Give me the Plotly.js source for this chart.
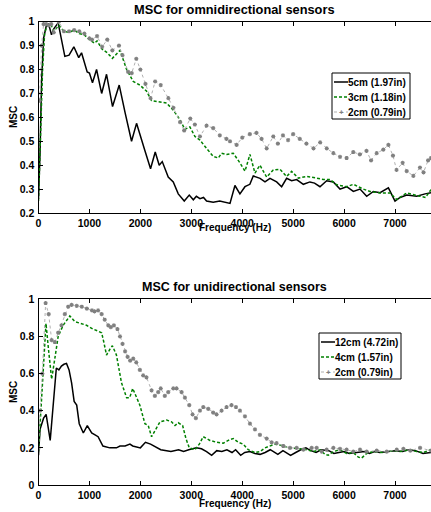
<!DOCTYPE html>
<html><head><meta charset="utf-8">
<script src="https://cdn.plot.ly/plotly-3.0.1.min.js"></script>
<style>html,body{margin:0;padding:0;overflow:hidden;background:#fff;}#c{width:440px;height:512px;}</style>
</head><body><div id="c"></div>
<script>
// ---- Top: omnidirectional ----
const fTop5 = [0,30,60,100,150,200,255,300,386,450,517,600,694,790,845,956,1000,1060,1140,1240,1336,1454,1585,1700,1827,1925,2000,2090,2200,2292,2370,2430,2547,2646,2744,2862,2960,3040,3100,3170,3240,3300,3430,3560,3760,3857,3955,4054,4150,4217,4350,4447,4545,4676,4774,4872,4970,5069,5200,5330,5420,5527,5658,5789,5920,6051,6182,6313,6444,6575,6706,6870,7000,7100,7230,7426,7590,7707];
const mTop5 = [0.26,0.45,0.75,0.93,0.98,0.99,0.945,0.97,0.995,0.93,0.855,0.86,0.895,0.85,0.87,0.79,0.785,0.745,0.80,0.70,0.78,0.645,0.735,0.62,0.50,0.575,0.52,0.46,0.385,0.455,0.40,0.415,0.35,0.33,0.28,0.25,0.275,0.255,0.27,0.26,0.265,0.25,0.245,0.25,0.24,0.315,0.28,0.31,0.32,0.355,0.345,0.33,0.345,0.33,0.31,0.345,0.335,0.34,0.32,0.33,0.325,0.31,0.335,0.33,0.30,0.31,0.29,0.30,0.27,0.29,0.285,0.305,0.25,0.265,0.275,0.27,0.28,0.285];

const fTop3 = [0,40,80,120,160,200,250,300,400,500,600,700,800,900,1000,1100,1150,1250,1350,1450,1600,1730,1860,1990,2120,2220,2385,2515,2646,2777,2875,2973,3071,3170,3300,3430,3530,3595,3693,3824,3955,4054,4152,4250,4348,4480,4610,4740,4872,4970,5101,5265,5462,5593,5724,5855,6051,6182,6378,6510,6706,6902,7033,7230,7492,7600,7707];
const mTop3 = [0.25,0.5,0.8,0.95,0.98,0.99,0.985,0.96,0.985,0.96,0.955,0.965,0.95,0.945,0.925,0.91,0.92,0.885,0.87,0.847,0.88,0.80,0.75,0.735,0.71,0.67,0.665,0.66,0.63,0.59,0.55,0.56,0.52,0.505,0.47,0.437,0.43,0.45,0.445,0.45,0.41,0.375,0.445,0.367,0.40,0.35,0.38,0.383,0.353,0.374,0.346,0.353,0.346,0.34,0.34,0.318,0.31,0.32,0.30,0.29,0.284,0.284,0.256,0.284,0.27,0.265,0.298];

const fTop2 = [20,60,100,150,200,250,300,400,500,600,700,800,900,1000,1050,1150,1250,1350,1450,1580,1650,1760,1830,1920,2000,2100,2200,2290,2400,2550,2650,2780,2860,2980,3070,3170,3300,3430,3560,3690,3760,3890,4000,4150,4280,4380,4480,4610,4700,4800,4900,5000,5130,5260,5400,5530,5660,5790,5920,6050,6180,6310,6440,6530,6640,6770,6870,6960,7030,7150,7230,7360,7490,7560,7650,7707];
const mTop2 = [0.67,0.9,0.99,0.99,0.985,0.99,0.955,1.0,0.96,0.96,0.965,0.96,0.95,0.93,0.925,0.94,0.895,0.925,0.88,0.9,0.86,0.79,0.785,0.845,0.80,0.74,0.68,0.75,0.735,0.68,0.64,0.58,0.545,0.595,0.57,0.52,0.565,0.555,0.525,0.51,0.50,0.485,0.515,0.53,0.535,0.51,0.47,0.52,0.49,0.525,0.505,0.53,0.51,0.49,0.47,0.495,0.47,0.45,0.435,0.43,0.455,0.445,0.46,0.42,0.45,0.465,0.485,0.44,0.38,0.41,0.375,0.355,0.39,0.37,0.42,0.43];

// ---- Bottom: unidirectional ----
const fBot12 = [0,30,100,150,230,300,350,400,450,500,550,600,650,700,750,800,880,958,1044,1110,1170,1265,1400,1530,1600,1700,1795,1850,2000,2100,2200,2400,2600,2750,2850,2950,3100,3200,3300,3400,3500,3600,3700,3800,3870,3970,4050,4150,4250,4350,4450,4550,4700,4800,4950,5050,5150,5250,5350,5450,5550,5700,5800,5900,6000,6100,6250,6400,6500,6600,6700,6850,7000,7150,7250,7400,7550,7707];
const mBot12 = [0.16,0.30,0.36,0.38,0.24,0.46,0.63,0.62,0.64,0.65,0.655,0.62,0.55,0.45,0.43,0.33,0.28,0.32,0.28,0.27,0.26,0.21,0.20,0.20,0.21,0.21,0.22,0.21,0.20,0.23,0.22,0.19,0.18,0.19,0.18,0.19,0.20,0.195,0.18,0.16,0.185,0.18,0.19,0.175,0.19,0.16,0.175,0.18,0.17,0.165,0.175,0.19,0.165,0.185,0.16,0.175,0.19,0.20,0.185,0.175,0.19,0.185,0.17,0.175,0.18,0.17,0.175,0.18,0.17,0.18,0.175,0.18,0.185,0.18,0.19,0.185,0.17,0.175];

const fBot4 = [0,50,100,147,200,258,320,386,484,583,615,712,812,943,1070,1170,1240,1282,1335,1400,1450,1530,1630,1730,1790,1850,1990,2090,2155,2220,2305,2385,2515,2613,2680,2745,2830,2895,2960,3070,3157,3235,3366,3497,3628,3760,3825,3923,4020,4119,4250,4350,4447,4545,4643,4740,4938,5134,5265,5396,5527,5625,5690,5790,5920,6050,6180,6280,6345,6445,6575,6770,6967,7100,7295,7426,7557,7707];
const mBot4 = [0.18,0.40,0.62,0.87,0.72,0.57,0.68,0.80,0.86,0.90,0.91,0.88,0.87,0.86,0.84,0.83,0.82,0.77,0.70,0.73,0.75,0.70,0.55,0.47,0.47,0.52,0.43,0.33,0.32,0.26,0.30,0.34,0.35,0.34,0.32,0.335,0.32,0.25,0.20,0.19,0.22,0.26,0.24,0.23,0.225,0.245,0.25,0.23,0.22,0.19,0.175,0.18,0.20,0.21,0.22,0.215,0.20,0.195,0.19,0.18,0.19,0.165,0.16,0.18,0.19,0.17,0.175,0.15,0.145,0.17,0.18,0.175,0.185,0.18,0.19,0.18,0.175,0.19];

const fBot2 = [0,30,75,140,200,258,320,386,451,517,583,650,750,850,950,1050,1100,1170,1240,1300,1370,1420,1480,1550,1600,1650,1700,1750,1800,1860,1920,1990,2055,2120,2220,2285,2350,2400,2480,2547,2646,2711,2810,2875,2960,3025,3090,3170,3235,3333,3430,3497,3595,3693,3790,3877,3955,4054,4152,4250,4348,4480,4578,4676,4807,4938,5069,5200,5364,5462,5560,5658,5790,5920,6050,6180,6313,6444,6641,6838,7034,7165,7300,7492,7707];
const mBot2 = [0.2,0.4,0.6,0.98,0.92,0.78,0.77,0.82,0.86,0.92,0.96,0.97,0.965,0.96,0.95,0.94,0.935,0.94,0.92,0.89,0.86,0.85,0.86,0.84,0.80,0.76,0.72,0.69,0.67,0.68,0.66,0.62,0.59,0.58,0.51,0.48,0.50,0.52,0.48,0.50,0.52,0.52,0.50,0.47,0.43,0.38,0.36,0.40,0.42,0.41,0.39,0.38,0.40,0.42,0.43,0.42,0.40,0.37,0.33,0.30,0.27,0.25,0.23,0.225,0.21,0.20,0.20,0.19,0.20,0.20,0.18,0.19,0.20,0.195,0.19,0.18,0.19,0.18,0.185,0.18,0.19,0.195,0.185,0.20,0.185];

const namesTop = ['5cm (1.97in)','3cm (1.18in)','2cm (0.79in)'];
const namesBot = ['12cm (4.72in)','4cm (1.57in)','2cm (0.79in)'];
const xTicks = [0,1000,2000,3000,4000,5000,6000,7000];

const FONT = 'Liberation Sans, Arial, Helvetica, sans-serif';
const BLACK = '#000', GREEN = '#008000', GRAY = '#808080', LGRAY = '#b0b0b0';
const blackLine = {color:BLACK, width:1.5};
const greenLine = {color:GREEN, width:1.5, dash:'3px,2px'};
const grayLine = {color:LGRAY, width:1, dash:'dot'};
const grayMarker = {symbol:'asterisk-open', size:3.5, color:GRAY, line:{color:GRAY, width:1.1}};

const traces = [
  {x:fTop5, y:mTop5, name:namesTop[0], mode:'lines', line:blackLine, xaxis:'x', yaxis:'y'},
  {x:fTop3, y:mTop3, name:namesTop[1], mode:'lines', line:greenLine, xaxis:'x', yaxis:'y'},
  {x:fTop2, y:mTop2, name:namesTop[2], mode:'lines+markers', line:grayLine, marker:grayMarker, xaxis:'x', yaxis:'y'},
  {x:fBot12, y:mBot12, name:namesBot[0], mode:'lines', line:blackLine, xaxis:'x2', yaxis:'y2'},
  {x:fBot4, y:mBot4, name:namesBot[1], mode:'lines', line:greenLine, xaxis:'x2', yaxis:'y2'},
  {x:fBot2, y:mBot2, name:namesBot[2], mode:'lines+markers', line:grayLine, marker:grayMarker, xaxis:'x2', yaxis:'y2'}
];

const W = 440, H = 512;
const px = v => v/W, py = v => 1 - v/H;
const xl = 38.5/W;
const xmax = (W-38.5)/50.93*1000;
const tickFont = {family:FONT, size:10.5, color:'#000', weight:'bold'};
function xaxisDef(anchor){
  return {domain:[xl,1], range:[0,xmax], anchor:anchor, tickvals:xTicks, ticks:'inside', ticklen:4, tickcolor:'#000',
    showline:true, mirror:'ticks', linecolor:'#000', linewidth:1, showgrid:false, zeroline:false, tickfont:tickFont, ticklabelstandoff:0};
}
function yaxisDef(anchor, dom, rng, dt){
  return {domain:dom, range:rng, anchor:anchor, dtick:dt, tick0:0, ticks:'inside', ticklen:4, tickcolor:'#000',
    showline:true, mirror:'ticks', linecolor:'#000', linewidth:1, showgrid:false, zeroline:false, tickfont:tickFont, ticklabelstandoff:1};
}
const ann = (text,x,y,size,angle,color,xanchor)=>({text:text, x:x, y:y, xref:'paper', yref:'paper', showarrow:false,
  xanchor:xanchor||'center', yanchor:'middle', textangle:angle||0,
  font:{family:FONT, size:size, color:color||'#000', weight:'bold'}});
const cx = (38.5+431)/2/W;

// custom legends (box, line samples, labels)
const shapes = [], anns = [];
function addLegend(x0, x1, y0, y1, rows, sx0, sx1, tx, names){
  shapes.push({type:'rect', xref:'paper', yref:'paper', x0:px(x0), x1:px(x1), y0:py(y0), y1:py(y1),
    line:{color:'#000', width:1}, fillcolor:'#fff', layer:'above'});
  const styles = [blackLine, greenLine, {color:LGRAY, width:1, dash:'dot'}];
  rows.forEach((ry,i)=>{
    shapes.push({type:'line', xref:'paper', yref:'paper', x0:px(sx0), x1:px(sx1), y0:py(ry), y1:py(ry), line:styles[i], layer:'above'});
    anns.push(ann(names[i], px(tx), py(ry), 10, 0, '#000', 'left'));
  });
  anns.push({text:'+', x:px((sx0+sx1)/2), y:py(rows[2]), xref:'paper', yref:'paper', showarrow:false, xanchor:'center', yanchor:'middle',
    font:{family:FONT, size:8, color:GRAY, weight:'bold'}});
}
addLegend(332, 410, 73, 119, [82, 97, 112], 334, 348, 346, namesTop);
addLegend(319, 401, 333, 379, [342, 357, 372], 321, 335, 333, namesBot);

const layout = {
  width:W, height:H, margin:{l:0,r:0,t:0,b:0}, paper_bgcolor:'#fff', plot_bgcolor:'#fff', showlegend:false,
  xaxis:xaxisDef('y'), yaxis:yaxisDef('x',[1-213/H, 1-21.7/H],[0.2,1],0.1),
  xaxis2:xaxisDef('y2'), yaxis2:yaxisDef('x2',[1-485/H, 1-299.3/H],[0,1],0.2),
  shapes:shapes,
  annotations:[
    ann('MSC for omnidirectional sensors', cx, py(9), 12.8),
    ann('MSC for unidirectional sensors', cx, py(287), 12.5),
    ann('Frequency (Hz)', cx, py(227), 10),
    ann('Frequency (Hz)', cx, py(503), 10),
    ann('MSC', px(13), py(117), 10, -90),
    ann('MSC', px(13), py(392), 10, -90)
  ].concat(anns)
};
Plotly.newPlot('c', traces, layout, {displayModeBar:false, staticPlot:true});
</script></body></html>
